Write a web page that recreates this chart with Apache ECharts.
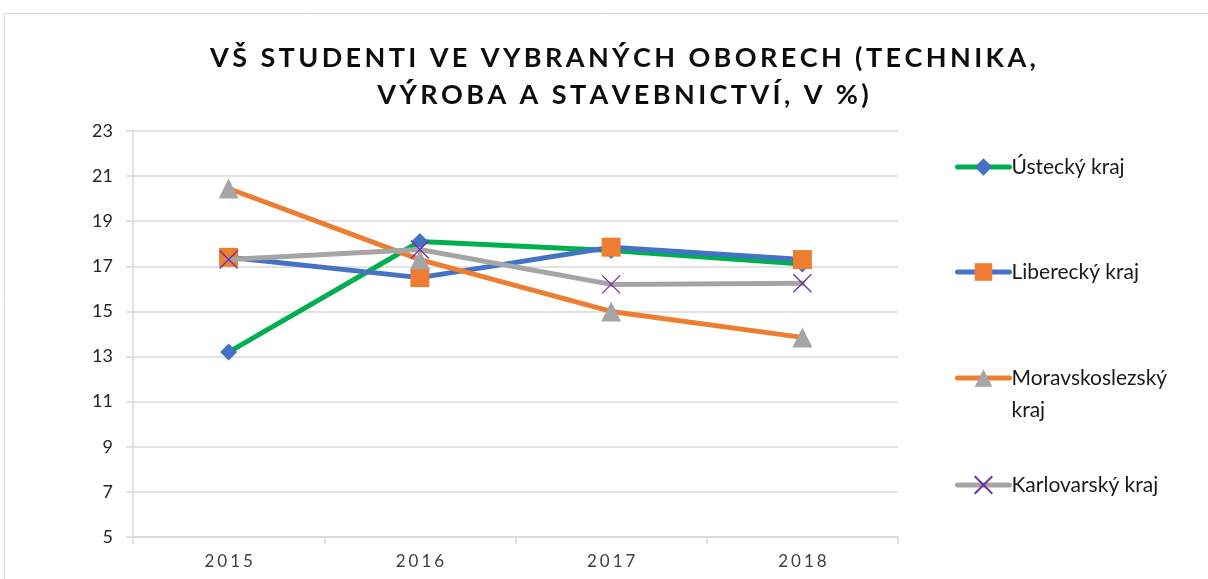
<!DOCTYPE html>
<html><head><meta charset="utf-8">
<script src="https://cdn.jsdelivr.net/npm/echarts@6/dist/echarts.min.js"></script>
<style>html,body{margin:0;padding:0;background:#fff}#c{width:1208px;height:579px}</style>
</head><body><div id="c"></div>
<script>
const titleLines = ['VŠ STUDENTI VE VYBRANÝCH OBORECH (TECHNIKA,', 'VÝROBA A STAVEBNICTVÍ, V %)'];
const years = ['2015', '2016', '2017', '2018'];
const seriesNames = ['Ústecký kraj', 'Liberecký kraj', 'Moravskoslezský kraj', 'Karlovarský kraj'];
const usti = [13.2, 18.1, 17.7, 17.1];
const liberec = [17.4, 16.5, 17.85, 17.3];
const moravskoslezsky = [20.45, 17.3, 15.0, 13.85];
const karlovy = [17.3, 17.75, 16.2, 16.25];
const yTicks = {min: 5, max: 23, interval: 2};

const lineColors = ['#00B050', '#4472C4', '#ED7D31', '#A5A5A5'];
const markerColors = ['#4472C4', '#ED7D31', '#A5A5A5', '#7030A0'];
const symbols = ['diamond', 'rect', 'triangle', 'path://M0,0L10,10M10,0L0,10'];
const symbolSizes = [17, 19, 20, 18];
const values = [usti, liberec, moravskoslezsky, karlovy];
const FONT = 'Lato, "Open Sans", sans-serif';

// letter-spaced text via rich segments (one per character)
function spaced(str, style) {
  return str.split('').map(ch => '{' + style + '|' + ch + '}').join('');
}

const chart = echarts.init(document.getElementById('c'), null, {renderer: 'canvas'});

const series = values.map((v, i) => ({
  name: seriesNames[i],
  type: 'line',
  data: v,
  symbol: symbols[i],
  symbolSize: symbolSizes[i],
  showAllSymbol: true,
  lineStyle: {color: lineColors[i], width: 5, cap: 'round'},
  itemStyle: i === 3
    ? {color: 'rgba(0,0,0,0)', borderColor: markerColors[i], borderWidth: 1.3}
    : {color: markerColors[i], borderWidth: 0},
  emphasis: {disabled: true},
  z: 2 + i
}));

const legendCenters = [165, 270, 378, 483];
const legends = seriesNames.map((n, i) => ({
  data: [n],
  left: 950,
  top: legendCenters[i] - (i === 2 ? 53 : 15),
  orient: 'vertical',
  itemWidth: 52,
  itemHeight: 22,
  formatter: i === 2 ? ' \nMoravskoslezský\nkraj' : '{name}',
  lineStyle: {width: 5},
  textStyle: {fontFamily: FONT, fontSize: 21, color: '#1a1a1a', lineHeight: i === 2 ? 32 : 24, padding: [0, 0, 0, -3]},
  selectedMode: false
}));

chart.setOption({
  animation: false,
  backgroundColor: '#fff',
  title: {
    text: titleLines.map(l => spaced(l, 'c')).join('\n'),
    left: 618,
    textAlign: 'center',
    top: 35,
    textStyle: {
      fontFamily: FONT, fontWeight: 'bold', fontSize: 27, lineHeight: 37, color: '#0d0d0d',
      rich: {c: {fontFamily: FONT, fontWeight: 'bold', fontSize: 27, lineHeight: 37, color: '#0d0d0d', padding: [0, 1.7, 0, 1.7]}}
    }
  },
  graphic: [{
    type: 'rect', z: -1, silent: true,
    shape: {x: 4.5, y: 13.5, width: 1300, height: 700},
    style: {fill: 'none', stroke: '#d9d9d9', lineWidth: 1}
  }],
  legend: legends,
  grid: {left: 133, right: 310, top: 131, bottom: 42, containLabel: false},
  xAxis: {
    type: 'category',
    data: years,
    boundaryGap: true,
    axisLine: {lineStyle: {color: '#d9d9d9', width: 1.5}},
    axisTick: {show: true, alignWithLabel: false, length: 7, lineStyle: {color: '#d9d9d9', width: 1.5}},
    axisLabel: {
      fontFamily: FONT, fontSize: 17, color: '#404040', margin: 16,
      formatter: v => spaced(v, 'd'),
      rich: {d: {fontFamily: FONT, fontSize: 17, color: '#404040', padding: [0, 1.5, 0, 1.5]}}
    },
    splitLine: {show: false}
  },
  yAxis: {
    type: 'value',
    min: yTicks.min, max: yTicks.max, interval: yTicks.interval,
    axisLine: {show: true, lineStyle: {color: '#d9d9d9', width: 1.5}},
    axisTick: {show: true, length: 7, lineStyle: {color: '#d9d9d9', width: 1.5}},
    axisLabel: {fontFamily: FONT, fontSize: 18, color: '#262626', margin: 20},
    splitLine: {lineStyle: {color: '#d9d9d9', width: 1.5}}
  },
  series: series
});
</script></body></html>
